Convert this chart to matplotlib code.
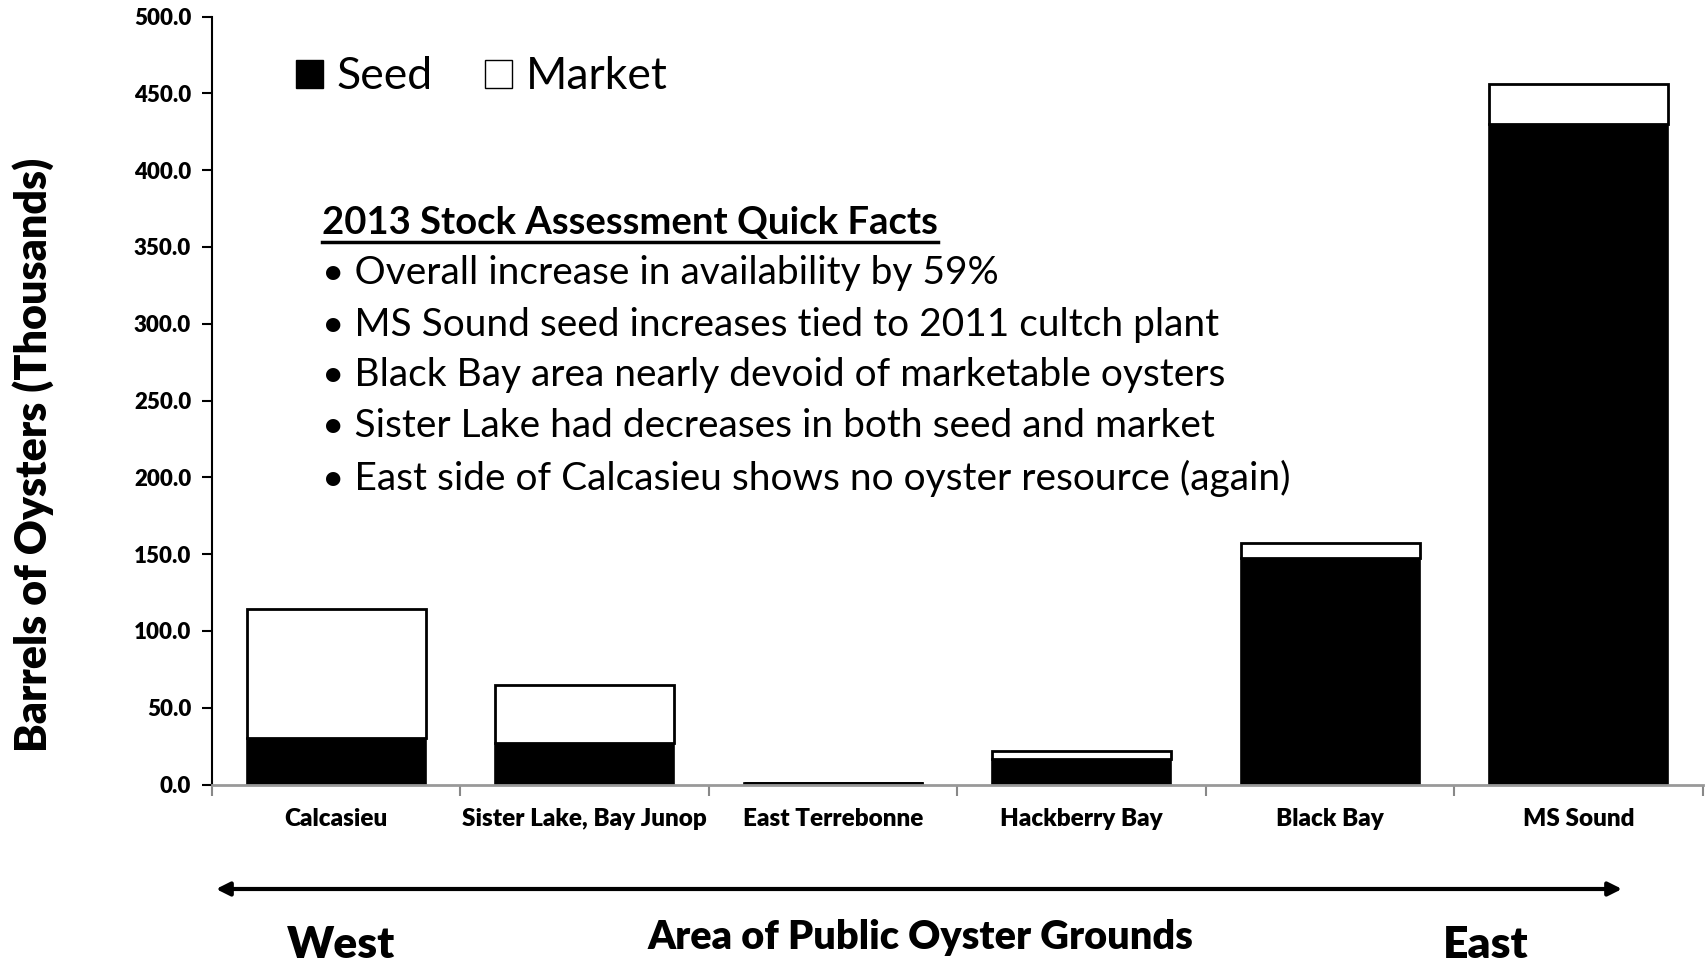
import numpy as np
import matplotlib
matplotlib.use("Agg")
import matplotlib.pyplot as plt
from matplotlib.patches import Rectangle
from matplotlib.lines import Line2D

plt.rcParams['font.family'] = ['Lato', 'DejaVu Sans']

categories = ['Calcasieu', 'Sister Lake, Bay Junop', 'East Terrebonne',
              'Hackberry Bay', 'Black Bay', 'MS Sound']
seed = [30.0, 27.1, 1.0, 16.3, 147.6, 430.0]
market = [84.2, 37.6, 0.3, 5.8, 9.4, 26.3]

facts_title = '2013 Stock Assessment Quick Facts'
facts = ['Overall increase in availability by 59%',
         'MS Sound seed increases tied to 2011 cultch plant',
         'Black Bay area nearly devoid of marketable oysters',
         'Sister Lake had decreases in both seed and market',
         'East side of Calcasieu shows no oyster resource (again)']

W, H = 1708, 964
fig = plt.figure(figsize=(W / 100, H / 100), dpi=100)
ax = fig.add_axes([212 / W, 1 - 784.5 / H, (1703 - 212) / W, (784.5 - 16.5) / H])

x = np.arange(len(categories))
ax.bar(x, seed, width=0.72, color='black', edgecolor='black', linewidth=1.2)
ax.bar(x, market, bottom=seed, width=0.72, color='white', edgecolor='black', linewidth=2)

ax.set_xlim(-0.5, len(categories) - 0.5)
ax.set_ylim(0, 500)
ax.set_yticks(np.arange(0, 501, 50))
ax.set_yticklabels(['%.1f' % v for v in np.arange(0, 501, 50)],
                   fontsize=16, fontweight='heavy')
ax.set_xticks(x)
ax.set_xticklabels(categories, fontsize=17.5, fontweight='heavy')
ax.set_xticks(np.arange(-0.5, len(categories)), minor=True)
ax.tick_params(axis='x', which='major', length=0, pad=17)
ax.tick_params(axis='x', which='minor', length=8, width=1.5, color='#888888')
ax.tick_params(axis='y', length=7, width=1.5, color='black', pad=8)

for s in ['top', 'right']:
    ax.spines[s].set_visible(False)
ax.spines['left'].set_linewidth(1.5)
ax.spines['bottom'].set_color('#999999')
ax.spines['bottom'].set_linewidth(2)

# legend
handles = [Rectangle((0, 0), 1, 1, facecolor='black', edgecolor='black'),
           Rectangle((0, 0), 1, 1, facecolor='white', edgecolor='black')]
fig.legend(handles, ['Seed', 'Market'], loc='center left',
           bbox_to_anchor=(296 / W, 1 - 77 / H), ncol=2, frameon=False,
           fontsize=32, handlelength=0.6, handleheight=0.6,
           handletextpad=0.3, columnspacing=1.2, borderpad=0, borderaxespad=0)

# quick facts
t = fig.text(322 / W, 1 - 223 / H, facts_title, fontsize=27.5, fontweight='bold',
             ha='left', va='center')
ys = [273, 325, 375, 426, 478]
for yy, f in zip(ys, facts):
    fig.text(322 / W, 1 - yy / H, '\u2022 ' + f, fontsize=28,
             ha='left', va='center')

# west-east arrow and labels
ax.annotate('', xy=(1622 / W, 1 - 889 / H), xytext=(216 / W, 1 - 889 / H),
            xycoords='figure fraction', textcoords='figure fraction',
            arrowprops=dict(arrowstyle='<|-|>', color='black', lw=3,
                            mutation_scale=20, shrinkA=0, shrinkB=0))
fig.text(341 / W, 1 - 945 / H, 'West', fontsize=32, fontweight='heavy',
         ha='center', va='center')
fig.text(920 / W, 1 - 937 / H, 'Area of Public Oyster Grounds', fontsize=28.5,
         fontweight='heavy', ha='center', va='center')
fig.text(1486 / W, 1 - 945 / H, 'East', fontsize=32, fontweight='heavy',
         ha='center', va='center')
fig.text(33 / W, 1 - 455 / H, 'Barrels of Oysters (Thousands)', fontsize=31,
         fontweight='heavy', rotation=90, ha='center', va='center')

# underline the facts title
fig.canvas.draw()
bb = t.get_window_extent()
fig.add_artist(Line2D([bb.x0 / W, bb.x1 / W], [(bb.y0 - 2) / H, (bb.y0 - 2) / H],
                      transform=fig.transFigure, color='black', lw=2.5))

fig.savefig('out.png', dpi=100)
